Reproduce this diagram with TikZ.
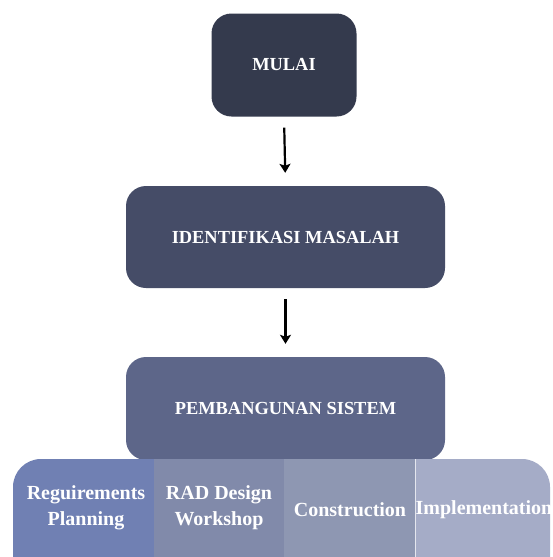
\documentclass[tikz,border=0pt]{standalone}
\usepackage{fontspec}
\setmainfont{Liberation Serif}
\usetikzlibrary{arrows.meta}
\definecolor{cA}{HTML}{343A4D}
\definecolor{cB}{HTML}{454C67}
\definecolor{cC}{HTML}{5D6689}
\definecolor{sA}{HTML}{7080B3}
\definecolor{sB}{HTML}{818AAA}
\definecolor{sC}{HTML}{8E97B2}
\definecolor{sD}{HTML}{A5ACC7}
\tikzset{
  box/.style={rounded corners=20pt, inner sep=0pt, text=white, font=\bfseries\fontsize{18.4}{20}\selectfont},
  seg/.style={inner sep=0pt, minimum height=140pt, text=white, align=center, font=\bfseries\fontsize{20}{26}\selectfont, anchor=north west},
  flow/.style={-{Stealth[length=9pt,width=11pt,inset=2pt]}, line width=2.2pt, shorten <=11pt, shorten >=13pt}
}
\begin{document}
\begin{tikzpicture}[x=1pt,y=1pt]
\clip (0,0) rectangle (553,-557);
\fill[white] (0,0) rectangle (553,-557);
\node[box, fill=cA, minimum width=145pt, minimum height=103pt] (mulai) at (284,-65) {MULAI};
\node[box, fill=cB, minimum width=319pt, minimum height=102pt] (ident) at (285.5,-237) {IDENTIFIKASI MASALAH};
\node[box, fill=cC, minimum width=319pt, minimum height=103pt] (pemb) at (285.5,-408.5) {PEMBANGUNAN SISTEM};
\draw[flow] (mulai.south) -- (ident.north);
\draw[flow] (ident.south) -- (pemb.north);
\begin{scope}
\clip[rounded corners=28pt] (13,-459) rectangle (550,-620);
\node[seg, fill=sA, minimum width=141pt] (s1) at (13,-459) {};
\node[seg, fill=sB, minimum width=130pt] (s2) at (154,-459) {};
\node[seg, fill=sC, minimum width=131pt] (s3) at (284,-459) {};
\node[seg, fill=sD, minimum width=137pt] (s4) at (415,-459) {};
\draw[white!70!sD, line width=0.8pt] (s4.north west) -- (s4.south west);
\end{scope}
\node[seg, anchor=center] (t1) at (86,-508) {Reguirements\\Planning};
\node[seg, anchor=center] (t2) at (219,-508) {RAD Design\\Workshop};
\node[seg, anchor=center, minimum height=0pt] (t3) at (350,-510) {Construction};
\node[seg, anchor=center, minimum height=0pt] (t4) at (484,-510) {Implementation};
\end{tikzpicture}
\end{document}
